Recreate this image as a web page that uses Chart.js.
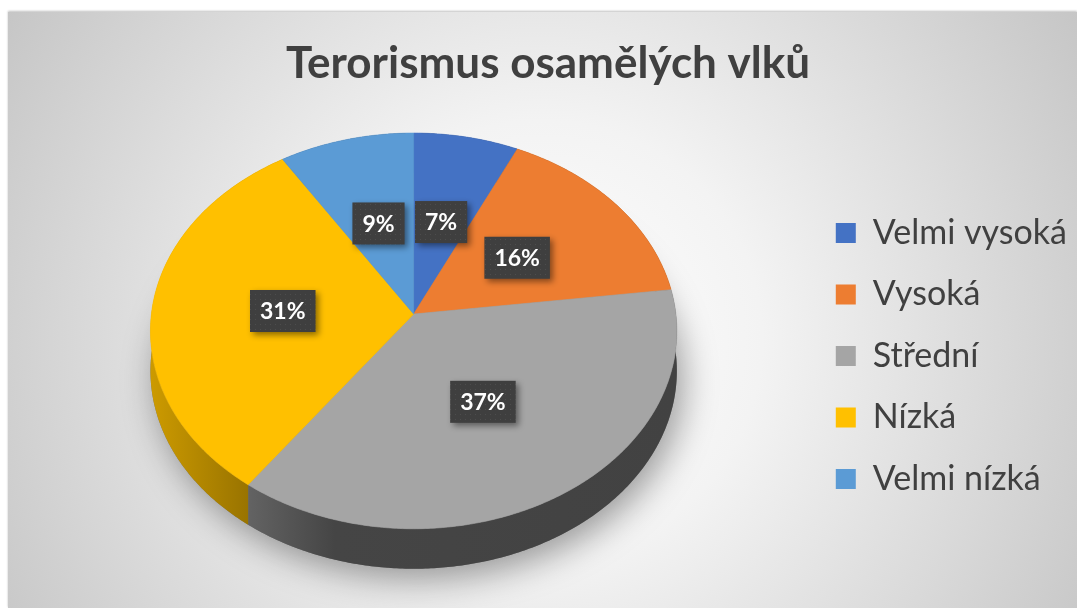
<!DOCTYPE html>
<html lang="cs">
<head>
<meta charset="utf-8">
<title>Terorismus osamělých vlků</title>
<script src="https://cdn.jsdelivr.net/npm/chart.js@4.4.1/dist/chart.umd.min.js"></script>
<style>
    html, body { margin: 0; padding: 0; background: #ffffff; }
    #wrap {
        position: absolute;
        left: 8px; top: 12px;
        width: 1069px; height: 596px;
        background: radial-gradient(circle farthest-corner at 50% 55%, #ffffff 0%, #f3f3f3 35%, #c6c6c6 100%);
        box-shadow: 0 -1px 2px rgba(0,0,0,0.25);
    }
</style>
</head>
<body>
<div id="wrap"><canvas id="pieChart"></canvas></div>
<script>
// ======================================================
// DATA
// ======================================================
const categories = ["Velmi vysoká", "Vysoká", "Střední", "Nízká", "Velmi nízká"];
const shares     = [7, 16, 37, 31, 9];
const colors     = ["#4472C4", "#ED7D31", "#A5A5A5", "#FFC000", "#5B9BD5"];

// ── 3D look ───────────────────────────────────────────
const TILT     = 0.764;   // vertical squash of the disc
const PERSP    = 0.085;   // near edge a bit bigger than far edge
const DEPTH    = 40;      // thickness of the disc, px
const XSTRETCH = 1.02;

Chart.defaults.font.family = 'Lato, "Open Sans", sans-serif';
Chart.defaults.color       = '#404040';

// ======================================================
// HELPERS
// ======================================================
function shade(hex, k) {
    const n = parseInt(hex.slice(1), 16);
    const r = Math.round(((n >> 16) & 255) * k);
    const g = Math.round(((n >> 8) & 255) * k);
    const b = Math.round((n & 255) * k);
    return `rgb(${r},${g},${b})`;
}

// top-face centre so that disc + thickness sit centred in the chart area
function topCenterY(el) {
    const ry   = el.outerRadius * TILT;
    const up   = ry / (1 + PERSP);
    const down = ry / (1 - PERSP) + DEPTH;
    return el.y + (up - down) / 2;
}

// point on the tilted disc for a given arc angle and radial fraction
function project(el, angle, frac, cy0) {
    const u = Math.cos(angle) * frac;
    const v = Math.sin(angle) * frac;
    const w = 1 / (1 - PERSP * v);
    return {
        x: el.x + u * w * el.outerRadius * XSTRETCH,
        y: cy0 + v * w * el.outerRadius * TILT
    };
}

function rimPoints(el, a0, a1, cy0, dy) {
    const n = Math.max(2, Math.ceil(Math.abs(a1 - a0) / 0.01));
    const pts = [];
    for (let i = 0; i <= n; i++) {
        const p = project(el, a0 + (a1 - a0) * i / n, 1, cy0);
        pts.push({ x: p.x, y: p.y + dy });
    }
    return pts;
}

function tracePath(ctx, pts) {
    pts.forEach((p, i) => i ? ctx.lineTo(p.x, p.y) : ctx.moveTo(p.x, p.y));
}

// dotted dark fill of the data labels
function labelPattern(ctx) {
    const c = document.createElement("canvas");
    c.width = 5; c.height = 5;
    const g = c.getContext("2d");
    g.fillStyle = "#3f3f3f";
    g.fillRect(0, 0, 5, 5);
    g.fillStyle = "#4d4d4d";
    g.fillRect(2, 2, 1, 1);
    return ctx.createPattern(c, "repeat");
}

// ======================================================
// 3D PIE PLUGIN
// ======================================================
const pie3d = {
    id: "pie3d",
    beforeDatasetsDraw(chart) {
        const ctx  = chart.ctx;
        const arcs = chart.getDatasetMeta(0).data;
        const el0  = arcs[0];
        const cy0  = topCenterY(el0);
        const left  = el0.x - el0.outerRadius * XSTRETCH;
        const right = el0.x + el0.outerRadius * XSTRETCH;

        // soft shadow under the disc
        ctx.save();
        ctx.beginPath();
        tracePath(ctx, rimPoints(el0, 0, Math.PI * 2, cy0, DEPTH));
        ctx.closePath();
        ctx.shadowColor   = "rgba(0,0,0,0.38)";
        ctx.shadowBlur    = 34;
        ctx.shadowOffsetX = 6;
        ctx.shadowOffsetY = 10;
        ctx.fillStyle = "#777";
        ctx.fill();
        ctx.restore();

        // side bands
        arcs.forEach((el, i) => {
            const { startAngle, endAngle } = el.getProps(["startAngle", "endAngle"]);
            const top = rimPoints(el, startAngle, endAngle, cy0, 0);
            const bot = rimPoints(el, startAngle, endAngle, cy0, DEPTH).reverse();
            const grad = ctx.createLinearGradient(left, 0, right, 0);
            grad.addColorStop(0,    shade(colors[i], 0.80));
            grad.addColorStop(0.35, shade(colors[i], 0.42));
            grad.addColorStop(1,    shade(colors[i], 0.40));
            ctx.beginPath();
            tracePath(ctx, top.concat(bot));
            ctx.closePath();
            ctx.fillStyle = grad;
            ctx.fill();
        });

        // top face
        arcs.forEach((el, i) => {
            const { startAngle, endAngle } = el.getProps(["startAngle", "endAngle"]);
            const c = project(el, 0, 0, cy0);
            ctx.beginPath();
            ctx.moveTo(c.x, c.y);
            rimPoints(el, startAngle, endAngle, cy0, 0).forEach(p => ctx.lineTo(p.x, p.y));
            ctx.closePath();
            ctx.fillStyle = colors[i];
            ctx.fill();
            ctx.strokeStyle = colors[i];
            ctx.lineWidth = 0.6;
            ctx.stroke();
        });
        return false;
    },
    afterDraw(chart) {
        const ctx  = chart.ctx;
        const arcs = chart.getDatasetMeta(0).data;
        const cy0  = topCenterY(arcs[0]);
        const total = shares.reduce((a, b) => a + b, 0);
        const pattern = labelPattern(ctx);

        ctx.save();
        ctx.font = 'bold 23px Lato, "Open Sans", sans-serif';
        ctx.textAlign = "center";
        ctx.textBaseline = "middle";
        arcs.forEach((el, i) => {
            const { startAngle, endAngle } = el.getProps(["startAngle", "endAngle"]);
            const p = project(el, (startAngle + endAngle) / 2, 0.5, cy0);
            const text = Math.round(shares[i] / total * 100) + "%";
            const w = ctx.measureText(text).width + 20;
            const h = 42;

            ctx.save();
            ctx.shadowColor   = "rgba(0,0,0,0.45)";
            ctx.shadowBlur    = 6;
            ctx.shadowOffsetX = 3;
            ctx.shadowOffsetY = 3;
            ctx.fillStyle = pattern;
            ctx.fillRect(p.x - w / 2, p.y - h / 2, w, h);
            ctx.restore();

            ctx.fillStyle = "#ffffff";
            ctx.fillText(text, p.x, p.y + 1);
        });
        ctx.restore();
    }
};

// ======================================================
// CHART
// ======================================================
const ctx = document.getElementById("pieChart").getContext("2d");
new Chart(ctx, {
    type: "pie",
    data: {
        labels: categories,
        datasets: [{
            data: shares,
            backgroundColor: colors,
            borderWidth: 0,
            hoverOffset: 0
        }]
    },
    options: {
        responsive: true,
        maintainAspectRatio: false,
        animation: false,
        events: [],
        layout: { padding: { left: 11, right: 0, top: 0, bottom: 0 } },
        plugins: {
            title: {
                display: true,
                text: "Terorismus osamělých vlků",
                color: "#404040",
                font: { size: 44, weight: "bold" },
                padding: { top: 25, bottom: 4 }
            },
            legend: {
                position: "right",
                // empty title only pushes the entries down
                title: { display: true, text: "", padding: { top: 75, bottom: 0 }, font: { size: 14, lineHeight: 1.2 } },
                labels: {
                    boxWidth: 20,
                    boxHeight: 20,
                    padding: 27.5,
                    color: "#404040",
                    font: { size: 34 }
                }
            },
            tooltip: { enabled: false }
        }
    },
    plugins: [pie3d]
});
</script>
</body>
</html>
